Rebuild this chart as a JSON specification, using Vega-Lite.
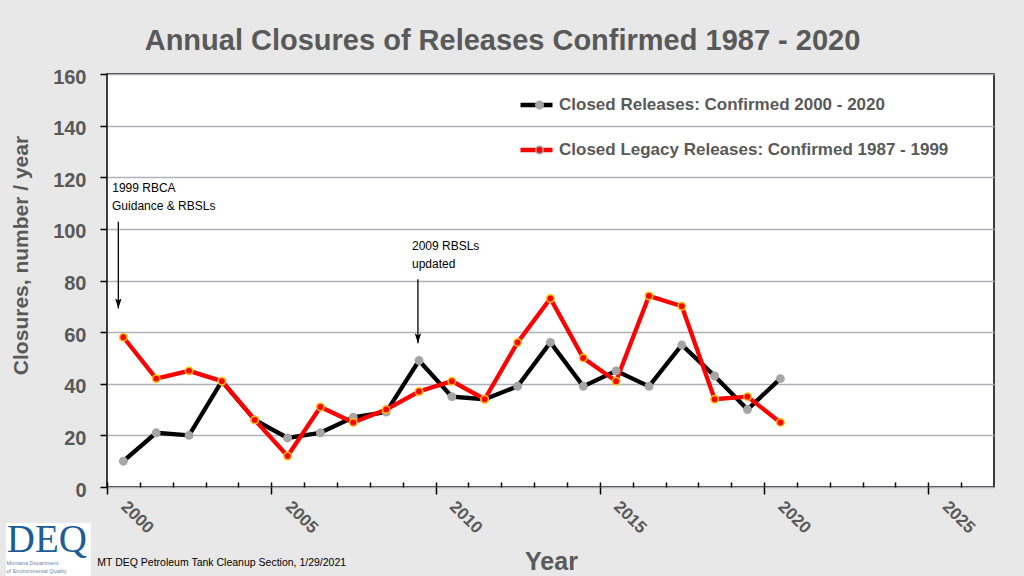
{
  "$schema": "https://vega.github.io/schema/vega-lite/v6.json",
  "width": 887,
  "height": 413,
  "autosize": {"type": "none"},
  "padding": {"left": 107, "top": 74, "right": 30, "bottom": 89},
  "background": "#e8e8e8",
  "config": {
    "font": "Liberation Sans",
    "view": {"fill": "#ffffff", "stroke": "#000000", "strokeWidth": 1.5},
    "axis": {"labelFlush": false, "labelOverlap": false}
  },
  "title": {
    "text": "Annual Closures of Releases Confirmed 1987 - 2020",
    "font": "Liberation Sans",
    "fontSize": 29,
    "fontWeight": "bold",
    "color": "#595959",
    "anchor": "middle",
    "frame": "group",
    "dx": -48,
    "dy": 28,
    "offset": 16,
    "baseline": "alphabetic"
  },
  "datasets": {
    "closures": [
      {"date": "2000-07-01", "series": "Closed Releases: Confirmed 2000 - 2020", "count": 10},
      {"date": "2001-07-01", "series": "Closed Releases: Confirmed 2000 - 2020", "count": 21},
      {"date": "2002-07-01", "series": "Closed Releases: Confirmed 2000 - 2020", "count": 20},
      {"date": "2003-07-01", "series": "Closed Releases: Confirmed 2000 - 2020", "count": 41},
      {"date": "2004-07-01", "series": "Closed Releases: Confirmed 2000 - 2020", "count": 26},
      {"date": "2005-07-01", "series": "Closed Releases: Confirmed 2000 - 2020", "count": 19},
      {"date": "2006-07-01", "series": "Closed Releases: Confirmed 2000 - 2020", "count": 21},
      {"date": "2007-07-01", "series": "Closed Releases: Confirmed 2000 - 2020", "count": 27},
      {"date": "2008-07-01", "series": "Closed Releases: Confirmed 2000 - 2020", "count": 29},
      {"date": "2009-07-01", "series": "Closed Releases: Confirmed 2000 - 2020", "count": 49},
      {"date": "2010-07-01", "series": "Closed Releases: Confirmed 2000 - 2020", "count": 35},
      {"date": "2011-07-01", "series": "Closed Releases: Confirmed 2000 - 2020", "count": 34},
      {"date": "2012-07-01", "series": "Closed Releases: Confirmed 2000 - 2020", "count": 39},
      {"date": "2013-07-01", "series": "Closed Releases: Confirmed 2000 - 2020", "count": 56},
      {"date": "2014-07-01", "series": "Closed Releases: Confirmed 2000 - 2020", "count": 39},
      {"date": "2015-07-01", "series": "Closed Releases: Confirmed 2000 - 2020", "count": 45},
      {"date": "2016-07-01", "series": "Closed Releases: Confirmed 2000 - 2020", "count": 39},
      {"date": "2017-07-01", "series": "Closed Releases: Confirmed 2000 - 2020", "count": 55},
      {"date": "2018-07-01", "series": "Closed Releases: Confirmed 2000 - 2020", "count": 43},
      {"date": "2019-07-01", "series": "Closed Releases: Confirmed 2000 - 2020", "count": 30},
      {"date": "2020-07-01", "series": "Closed Releases: Confirmed 2000 - 2020", "count": 42},
      {"date": "2000-07-01", "series": "Closed Legacy Releases: Confirmed 1987 - 1999", "count": 58},
      {"date": "2001-07-01", "series": "Closed Legacy Releases: Confirmed 1987 - 1999", "count": 42},
      {"date": "2002-07-01", "series": "Closed Legacy Releases: Confirmed 1987 - 1999", "count": 45},
      {"date": "2003-07-01", "series": "Closed Legacy Releases: Confirmed 1987 - 1999", "count": 41},
      {"date": "2004-07-01", "series": "Closed Legacy Releases: Confirmed 1987 - 1999", "count": 26},
      {"date": "2005-07-01", "series": "Closed Legacy Releases: Confirmed 1987 - 1999", "count": 12},
      {"date": "2006-07-01", "series": "Closed Legacy Releases: Confirmed 1987 - 1999", "count": 31},
      {"date": "2007-07-01", "series": "Closed Legacy Releases: Confirmed 1987 - 1999", "count": 25},
      {"date": "2008-07-01", "series": "Closed Legacy Releases: Confirmed 1987 - 1999", "count": 30},
      {"date": "2009-07-01", "series": "Closed Legacy Releases: Confirmed 1987 - 1999", "count": 37},
      {"date": "2010-07-01", "series": "Closed Legacy Releases: Confirmed 1987 - 1999", "count": 41},
      {"date": "2011-07-01", "series": "Closed Legacy Releases: Confirmed 1987 - 1999", "count": 34},
      {"date": "2012-07-01", "series": "Closed Legacy Releases: Confirmed 1987 - 1999", "count": 56},
      {"date": "2013-07-01", "series": "Closed Legacy Releases: Confirmed 1987 - 1999", "count": 73},
      {"date": "2014-07-01", "series": "Closed Legacy Releases: Confirmed 1987 - 1999", "count": 50},
      {"date": "2015-07-01", "series": "Closed Legacy Releases: Confirmed 1987 - 1999", "count": 41},
      {"date": "2016-07-01", "series": "Closed Legacy Releases: Confirmed 1987 - 1999", "count": 74},
      {"date": "2017-07-01", "series": "Closed Legacy Releases: Confirmed 1987 - 1999", "count": 70},
      {"date": "2018-07-01", "series": "Closed Legacy Releases: Confirmed 1987 - 1999", "count": 34},
      {"date": "2019-07-01", "series": "Closed Legacy Releases: Confirmed 1987 - 1999", "count": 35},
      {"date": "2020-07-01", "series": "Closed Legacy Releases: Confirmed 1987 - 1999", "count": 25}
    ],
    "notes": [
      {"date": "2000-02-28", "value": 115.7, "label": "1999 RBCA"},
      {"date": "2000-02-26", "value": 108.7, "label": "Guidance & RBSLs"},
      {"date": "2009-04-14", "value": 93.5, "label": "2009 RBSLs"},
      {"date": "2009-04-14", "value": 86.4, "label": "updated"}
    ],
    "arrows": [
      {"date": "2000-05-06", "top": 102.8, "tip": 69.2},
      {"date": "2009-06-19", "top": 80.5, "tip": 55.7}
    ]
  },
  "layer": [
    {
      "data": {"name": "closures"},
      "mark": {"type": "line", "strokeWidth": 4.3, "strokeJoin": "miter"},
      "encoding": {
        "x": {
          "field": "date",
          "type": "temporal",
          "scale": {"type": "utc", "domain": [{"year": 2000, "utc": true}, {"year": 2027, "utc": true}]},
          "axis": {
            "orient": "bottom",
            "values": [{"year": 2000, "utc": true}, {"year": 2005, "utc": true}, {"year": 2010, "utc": true}, {"year": 2015, "utc": true}, {"year": 2020, "utc": true}, {"year": 2025, "utc": true}],
            "format": "%Y",
            "labelAngle": 45,
            "labelAlign": "left",
            "labelBaseline": "top",
            "labelOffset": 22,
            "labelPadding": 4,
            "labelFont": "Liberation Sans",
            "labelFontSize": 17,
            "labelFontWeight": "bold",
            "labelColor": "#595959",
            "labelBound": false,
            "tickSize": 7,
            "tickColor": "#000000",
            "tickWidth": 1.5,
            "domain": false,
            "grid": false,
            "title": "Year",
            "titleFont": "Liberation Sans",
            "titleFontSize": 25,
            "titleFontWeight": "bold",
            "titleColor": "#595959",
            "titleX": 444,
            "titleY": 82,
            "titleAlign": "center",
            "titleBaseline": "alphabetic"
          }
        },
        "y": {
          "field": "count",
          "type": "quantitative",
          "scale": {"domain": [0, 160], "nice": false, "zero": false},
          "axis": {
            "values": [0, 20, 40, 60, 80, 100, 120, 140, 160],
            "title": "Closures, number / year",
            "titleFont": "Liberation Sans",
            "titleFontSize": 21,
            "titleFontWeight": "bold",
            "titleColor": "#595959",
            "titleAngle": -90,
            "titleX": -80,
            "titleY": 181,
            "titleAlign": "center",
            "titleBaseline": "alphabetic",
            "labelFont": "Liberation Sans",
            "labelFontSize": 20,
            "labelFontWeight": "bold",
            "labelColor": "#595959",
            "labelPadding": 14,
            "labelOffset": 3,
            "tickSize": 7,
            "tickColor": "#000000",
            "tickWidth": 1.5,
            "domain": false,
            "grid": true,
            "gridColor": "#aeb0bc",
            "gridWidth": 1.5
          }
        },
        "stroke": {
          "field": "series",
          "type": "nominal",
          "scale": {"domain": ["Closed Releases: Confirmed 2000 - 2020", "Closed Legacy Releases: Confirmed 1987 - 1999"], "range": ["#000000", "#ff0000"]},
          "legend": {
            "orient": "none",
            "legendX": 411,
            "legendY": 13,
            "title": null,
            "symbolType": "stroke",
            "symbolSize": 1024,
            "symbolStrokeWidth": 4.3,
            "labelFont": "Liberation Sans",
            "labelFontSize": 17,
            "labelFontWeight": "bold",
            "labelColor": "#595959",
            "labelOffset": 4,
            "labelLimit": 600,
            "rowPadding": 9,
            "clipHeight": 36,
            "padding": 0,
            "zindex": 1
          }
        }
      }
    },
    {
      "data": {"name": "closures"},
      "mark": {"type": "point", "shape": "circle", "filled": true, "size": 55, "strokeWidth": 1.5, "opacity": 1},
      "encoding": {
        "x": {
          "field": "date",
          "type": "temporal",
          "axis": {
            "orient": "bottom",
            "values": [{"year": 2000, "utc": true}, {"year": 2001, "utc": true}, {"year": 2002, "utc": true}, {"year": 2003, "utc": true}, {"year": 2004, "utc": true}, {"year": 2005, "utc": true}, {"year": 2006, "utc": true}, {"year": 2007, "utc": true}, {"year": 2008, "utc": true}, {"year": 2009, "utc": true}, {"year": 2010, "utc": true}, {"year": 2011, "utc": true}, {"year": 2012, "utc": true}, {"year": 2013, "utc": true}, {"year": 2014, "utc": true}, {"year": 2015, "utc": true}, {"year": 2016, "utc": true}, {"year": 2017, "utc": true}, {"year": 2018, "utc": true}, {"year": 2019, "utc": true}, {"year": 2020, "utc": true}, {"year": 2021, "utc": true}, {"year": 2022, "utc": true}, {"year": 2023, "utc": true}, {"year": 2024, "utc": true}, {"year": 2025, "utc": true}, {"year": 2026, "utc": true}],
            "labels": false,
            "tickSize": -5,
            "tickColor": "#000000",
            "tickWidth": 1.5,
            "domain": false,
            "grid": false,
            "title": null
          }
        },
        "y": {"field": "count", "type": "quantitative"},
        "fill": {
          "field": "series",
          "type": "nominal",
          "sort": "descending",
          "scale": {"range": ["#a5a5a5", "#ff0000"]},
          "legend": {
            "orient": "none",
            "legendX": 424,
            "legendY": 13,
            "title": null,
            "symbolType": "circle",
            "symbolSize": 55,
            "symbolStrokeWidth": 1.5,
            "labelExpr": "''",
            "labelFontSize": 17,
            "rowPadding": 9,
            "clipHeight": 36,
            "padding": 0,
            "zindex": 2,
            "encode": {
              "symbols": {
                "update": {
                  "stroke": {"signal": "datum.value === 'Closed Releases: Confirmed 2000 - 2020' ? '#a5a5a5' : '#ffc000'"},
                  "opacity": {"value": 1}
                }
              }
            }
          }
        },
        "stroke": {
          "condition": {"test": "datum.series === 'Closed Legacy Releases: Confirmed 1987 - 1999'", "value": "#ffc000"},
          "value": "#a5a5a5"
        }
      }
    },
    {
      "data": {"name": "notes"},
      "mark": {"type": "text", "align": "left", "baseline": "middle", "font": "Liberation Sans", "fontSize": 12, "color": "#000000"},
      "encoding": {
        "x": {"field": "date", "type": "temporal", "axis": null},
        "y": {"field": "value", "type": "quantitative"},
        "text": {"field": "label"}
      }
    },
    {
      "data": {"name": "arrows"},
      "mark": {"type": "rule", "strokeWidth": 1.3, "color": "#000000"},
      "encoding": {
        "x": {"field": "date", "type": "temporal", "axis": null},
        "y": {"field": "top", "type": "quantitative"},
        "y2": {"field": "tip"}
      }
    },
    {
      "data": {"name": "arrows"},
      "mark": {"type": "point", "shape": "M0,0L-0.32,-1L0,-0.78L0.32,-1Z", "filled": true, "size": 400, "opacity": 1, "color": "#000000", "strokeWidth": 0},
      "encoding": {
        "x": {"field": "date", "type": "temporal", "axis": null},
        "y": {"field": "tip", "type": "quantitative"}
      }
    },
    {
      "data": {"values": [{"start": "1996-12-04", "end": "1999-07-06", "top": -13.9, "bottom": -34.5}]},
      "mark": {"type": "rect", "color": "#ffffff"},
      "encoding": {
        "x": {"field": "start", "type": "temporal", "axis": null},
        "x2": {"field": "end"},
        "y": {"field": "top", "type": "quantitative"},
        "y2": {"field": "bottom"}
      }
    },
    {
      "data": {"values": [{"date": "1996-12-12", "value": -25.1, "label": "DEQ"}]},
      "mark": {"type": "text", "align": "left", "baseline": "alphabetic", "font": "Liberation Serif", "fontSize": 39, "color": "#1c5d99"},
      "encoding": {
        "x": {"field": "date", "type": "temporal", "axis": null},
        "y": {"field": "value", "type": "quantitative"},
        "text": {"field": "label"}
      }
    },
    {
      "data": {"values": [
        {"date": "1996-12-10", "value": -30.2, "label": "Montana Department"},
        {"date": "1996-12-10", "value": -33.2, "label": "of Environmental Quality"}
      ]},
      "mark": {"type": "text", "align": "left", "baseline": "alphabetic", "font": "Liberation Sans", "fontSize": 5.5, "color": "#6a86a8"},
      "encoding": {
        "x": {"field": "date", "type": "temporal", "axis": null},
        "y": {"field": "value", "type": "quantitative"},
        "text": {"field": "label"}
      }
    },
    {
      "data": {"values": [{"date": "1999-09-15", "value": -29.3, "label": "MT DEQ Petroleum Tank Cleanup Section, 1/29/2021"}]},
      "mark": {"type": "text", "align": "left", "baseline": "middle", "font": "Liberation Sans", "fontSize": 10.5, "color": "#000000"},
      "encoding": {
        "x": {"field": "date", "type": "temporal", "axis": null},
        "y": {"field": "value", "type": "quantitative"},
        "text": {"field": "label"}
      }
    }
  ],
  "resolve": {"axis": {"x": "independent"}}
}
